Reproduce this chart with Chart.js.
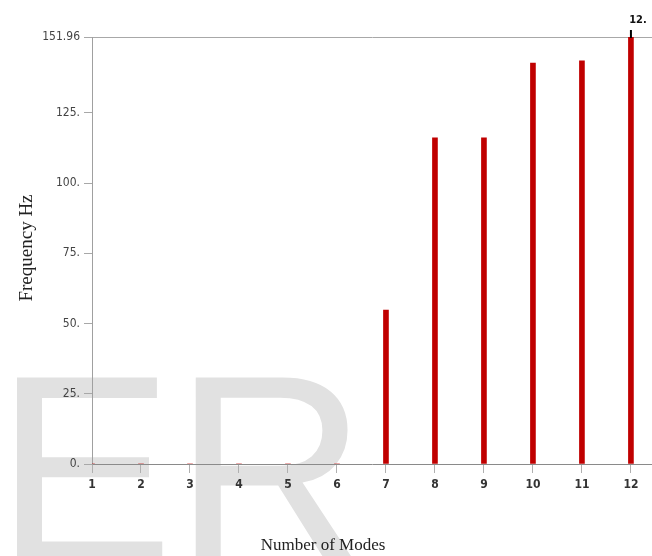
<!DOCTYPE html>
<html lang="en">
<head>
    <meta charset="UTF-8">
    <title>Frequency vs Number of Modes</title>
    <script src="https://cdn.jsdelivr.net/npm/chart.js"></script>
    <style>
        body {
            margin: 0;
            background: #fff;
        }
        canvas {
            display: block;
        }
    </style>
</head>
<body>
    <canvas id="modesChart" width="652" height="556"></canvas>

    <script>
        // datos
        const modes = [1, 2, 3, 4, 5, 6, 7, 8, 9, 10, 11, 12];
        const freqHz = [0, 0, 0, 0, 0, 0, 54.8, 116.1, 116.1, 142.7, 143.5, 151.96];
        const xTicks = [1, 2, 3, 4, 5, 6, 7, 8, 9, 10, 11, 12];
        const yTicks = [0, 25, 50, 75, 100, 125, 151.96];
        const yTickLabels = ['0.', '25.', '50.', '75.', '100.', '125.', '151.96'];
        const markerMode = 12;
        const markerLabel = '12.';

        const tickFont = '"DejaVu Sans Condensed", "DejaVu Sans", sans-serif';

        // marca de agua "ER" detras de todo
        const watermark = {
            id: 'watermark',
            beforeDraw(chart) {
                const ctx = chart.ctx;
                ctx.save();
                ctx.fillStyle = '#e1e1e1';
                ctx.font = '268px "Liberation Sans", Arial, sans-serif';
                ctx.textBaseline = 'alphabetic';
                ctx.fillText('ER', -5, 562);
                ctx.restore();
            }
        };

        // titulos de los ejes en serif
        const axisTitles = {
            id: 'axisTitles',
            afterDraw(chart) {
                const ctx = chart.ctx;
                ctx.save();
                ctx.fillStyle = '#222';
                ctx.textAlign = 'center';
                ctx.textBaseline = 'middle';
                ctx.font = '17px "Liberation Serif", "Times New Roman", serif';
                ctx.fillText('Number of Modes', 323, 546);
                ctx.translate(27, 248);
                ctx.rotate(-Math.PI / 2);
                ctx.font = '19px "Liberation Serif", "Times New Roman", serif';
                ctx.fillText('Frequency Hz', 0, 0);
                ctx.restore();
            }
        };

        // marcador negro con etiqueta sobre el modo 12
        const modeMarker = {
            id: 'modeMarker',
            afterDatasetsDraw(chart) {
                const ctx = chart.ctx;
                const i = modes.indexOf(markerMode);
                const px = chart.scales.x.getPixelForValue(markerMode);
                const py = chart.scales.y.getPixelForValue(freqHz[i]);
                ctx.save();
                ctx.strokeStyle = '#000';
                ctx.lineWidth = 2;
                ctx.beginPath();
                ctx.moveTo(px, py + 1);
                ctx.lineTo(px, py - 7);
                ctx.stroke();
                ctx.fillStyle = '#111';
                ctx.font = 'bold 11px ' + tickFont;
                ctx.textAlign = 'center';
                ctx.textBaseline = 'middle';
                ctx.fillText(markerLabel, px + 7, py - 17);
                ctx.restore();
            }
        };

        const ctx = document.getElementById('modesChart').getContext('2d');
        new Chart(ctx, {
            type: 'bar',
            data: {
                datasets: [{
                    data: modes.map((m, i) => ({ x: m, y: freqHz[i] })),
                    backgroundColor: '#c00000',
                    borderWidth: 0,
                    barThickness: 5
                }]
            },
            options: {
                responsive: false,
                animation: false,
                layout: {
                    padding: { top: 37, left: 0, right: 0, bottom: 0 }
                },
                plugins: {
                    legend: { display: false },
                    tooltip: { enabled: false }
                },
                scales: {
                    x: {
                        type: 'linear',
                        min: 1,
                        max: 12.43,
                        offset: false,
                        afterBuildTicks: s => { s.ticks = xTicks.map(v => ({ value: v })); },
                        afterFit: s => { s.height = 92; },
                        grid: {
                            offset: false,
                            drawOnChartArea: false,
                            tickLength: 9,
                            tickColor: '#b0b0b0'
                        },
                        border: { color: '#8a8a8a' },
                        ticks: {
                            autoSkip: false,
                            maxRotation: 0,
                            padding: 5,
                            color: '#333',
                            font: { family: tickFont, size: 12, weight: 'bold' }
                        }
                    },
                    y: {
                        min: 0,
                        max: 151.96,
                        afterBuildTicks: s => { s.ticks = yTicks.map(v => ({ value: v })); },
                        afterFit: s => { s.width = 92; },
                        grid: {
                            color: c => (c.tick && c.tick.value === 151.96) ? '#a8a8a8' : 'transparent',
                            tickColor: '#a8a8a8',
                            tickLength: 8
                        },
                        border: { color: '#a0a0a0' },
                        ticks: {
                            padding: 4,
                            color: '#444',
                            font: { family: tickFont, size: 12 },
                            callback: (v, i) => yTickLabels[i]
                        }
                    }
                }
            },
            plugins: [watermark, axisTitles, modeMarker]
        });
    </script>
</body>
</html>
